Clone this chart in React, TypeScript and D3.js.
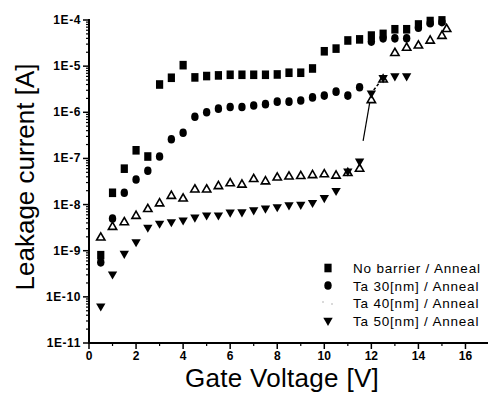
import React from 'react';
import * as d3 from 'd3';

const volts = [0.5, 1, 1.5, 2, 2.5, 3, 3.5, 4, 4.5, 5, 5.5, 6, 6.5, 7, 7.5, 8, 8.5, 9, 9.5, 10, 10.5, 11, 11.5, 12, 12.5, 13, 13.5, 14, 14.5, 15];
const noBarrierI = [8e-10, 1.8e-8, 6e-8, 1.5e-7, 1.1e-7, 4e-6, 5.6e-6, 1.05e-5, 5.7e-6, 6.1e-6, 6.3e-6, 6.5e-6, 6.5e-6, 6.5e-6, 6.5e-6, 6.6e-6, 7.2e-6, 7.2e-6, 8.9e-6, 2.1e-5, 2.4e-5, 3.6e-5, 3.8e-5, 4.6e-5, 5e-5, 6.3e-5, 6.3e-5, 8e-5, 9.5e-5, 9.8e-5];
const ta30I = [5.6e-10, 5e-9, 1.8e-8, 3.5e-8, 5.4e-8, 1.1e-7, 2.6e-7, 3.6e-7, 8e-7, 1.0e-6, 1.2e-6, 1.3e-6, 1.3e-6, 1.4e-6, 1.5e-6, 1.7e-6, 1.7e-6, 1.8e-6, 2.1e-6, 2.3e-6, 2.8e-6, 2.3e-6, 3.5e-6, 3.4e-5, 4.0e-5, 4.0e-5, 4.0e-5, 6.8e-5, 8.5e-5, 9e-5];
const ta40V = [...volts, 15.2];
const ta40I = [2e-9, 3.4e-9, 4.3e-9, 5.9e-9, 8.3e-9, 1.1e-8, 1.6e-8, 1.4e-8, 2.2e-8, 2.2e-8, 2.6e-8, 3e-8, 2.8e-8, 3.7e-8, 3.3e-8, 4e-8, 4.2e-8, 4.3e-8, 4.5e-8, 4.7e-8, 4.4e-8, 5e-8, 6.2e-8, 1.9e-6, 5.3e-6, 2e-5, 2.6e-5, 2.9e-5, 3.7e-5, 4.7e-5, 6.6e-5];
const ta50V = volts.slice(0, 27);
const ta50I = [6.3e-11, 3.1e-10, 8.7e-10, 1.55e-9, 3.2e-9, 3.9e-9, 4.2e-9, 4.6e-9, 5.3e-9, 5.9e-9, 5.9e-9, 6.8e-9, 6.9e-9, 7.6e-9, 8.3e-9, 8.9e-9, 9.8e-9, 1.0e-8, 1.1e-8, 1.4e-8, 2e-8, 5.3e-8, 8.7e-8, 2.6e-6, 5.6e-6, 6.1e-6, 6.1e-6];

const xTicks = [0, 2, 4, 6, 8, 10, 12, 14, 16];
const xMinor = [1, 3, 5, 7, 9, 11, 13, 15, 17];
const yMajor = [1e-11, 1e-10, 1e-9, 1e-8, 1e-7, 1e-6, 1e-5, 1e-4];
const yTickLabels = ['1E-11', '1E-10', '1E-9', '1E-8', '1E-7', '1E-6', '1E-5', '1E-4'];
const legendLabels = ['No barrier / Anneal', 'Ta 30[nm] / Anneal', 'Ta 40[nm] / Anneal', 'Ta 50[nm] / Anneal'];

const FONT = 'Liberation Sans, Arial, Helvetica, sans-serif';

export default function App() {
  const x = d3.scaleLinear().domain([0, 17]).range([89, 489]);
  const y = d3.scaleLog().domain([1e-11, 1e-4]).range([343, 20]);
  const minorY = y.ticks().filter((v) => !yMajor.some((m) => Math.abs(m - v) / m < 1e-6));

  const triUp = d3.symbol().type(d3.symbolTriangle).size(30)();
  const triDown = d3.symbol().type(d3.symbolTriangle).size(38)();

  const square = (cx: number, cy: number, k: string) => (
    <rect key={k} x={cx - 3.6} y={cy - 4.3} width={7.2} height={8.6} fill="#000" />
  );
  const circ = (cx: number, cy: number, k: string) => (
    <ellipse key={k} cx={cx} cy={cy} rx={3.7} ry={4.3} fill="#000" />
  );
  const up = (cx: number, cy: number, k: string) => (
    <path key={k} d={triUp} transform={`translate(${cx},${cy + 0.8})`} fill="#fff" stroke="#000" strokeWidth={1.6} />
  );
  const down = (cx: number, cy: number, k: string) => (
    <path key={k} d={triDown} transform={`translate(${cx},${cy}) rotate(180)`} fill="#000" />
  );

  const seg = (vs: number[], is: number[], i: number, t0: number, t1: number) => {
    const x0 = x(vs[i]), y0 = y(is[i]), x1 = x(vs[i + 1]), y1 = y(is[i + 1]);
    return { x1: x0 + (x1 - x0) * t0, y1: y0 + (y1 - y0) * t0, x2: x0 + (x1 - x0) * t1, y2: y0 + (y1 - y0) * t1 };
  };
  const i115 = ta50V.indexOf(11.5);
  const solid = seg(ta50V, ta50I, i115, 0.3, 0.95);
  const dashed = seg(ta50V, ta50I, i115 + 1, 0.2, 0.8);

  const legX = 328;
  const legY = [268, 285.5, 303, 320.5];

  return (
    <div style={{ position: 'absolute', left: 0, top: 0 }}>
      <svg width={488} height={394} style={{ display: 'block', background: '#fff' }} fontFamily={FONT}>
        {/* axes */}
        <line x1={x(0)} x2={x(0)} y1={y(1e-4) - 1} y2={y(1e-11) + 1} stroke="#000" strokeWidth={2} />
        <line x1={x(0) - 1} x2={x(17)} y1={y(1e-11)} y2={y(1e-11)} stroke="#000" strokeWidth={2} />
        {yMajor.map((v, i) => (
          <g key={'ym' + i}>
            <line x1={x(0) - 6} x2={x(0)} y1={y(v)} y2={y(v)} stroke="#000" strokeWidth={1.5} />
            <text x={x(0) - 8} y={y(v) + 4} textAnchor="end" fontSize={12} fontWeight="bold" letterSpacing={0.6}>{yTickLabels[i]}</text>
          </g>
        ))}
        {minorY.map((v, i) => (
          <line key={'yn' + i} x1={x(0) - 3} x2={x(0)} y1={y(v)} y2={y(v)} stroke="#000" strokeWidth={1.2} />
        ))}
        {xTicks.map((v) => (
          <g key={'xm' + v}>
            <line x1={x(v)} x2={x(v)} y1={y(1e-11)} y2={y(1e-11) + 6} stroke="#000" strokeWidth={1.5} />
            <text x={x(v)} y={y(1e-11) + 17} textAnchor="middle" fontSize={12} fontWeight="bold">{v}</text>
          </g>
        ))}
        {xMinor.map((v) => (
          <line key={'xn' + v} x1={x(v)} x2={x(v)} y1={y(1e-11)} y2={y(1e-11) + 3} stroke="#000" strokeWidth={1.2} />
        ))}
        {/* titles */}
        <text x={282} y={387} textAnchor="middle" fontSize={26} letterSpacing={0.3}>Gate Voltage [V]</text>
        <text transform="translate(34,177) rotate(-90)" textAnchor="middle" fontSize={26}>Leakage current [A]</text>

        {/* connecting lines */}
        <line {...solid} stroke="#000" strokeWidth={1.2} />
        <line {...dashed} stroke="#000" strokeWidth={1.5} strokeDasharray="3,2" />

        {/* data */}
        {ta40V.map((v, i) => up(x(v), y(ta40I[i]), 'u' + i))}
        {ta50V.map((v, i) => down(x(v), y(ta50I[i]), 'd' + i))}
        {volts.map((v, i) => circ(x(v), y(ta30I[i]), 'c' + i))}
        {volts.map((v, i) => square(x(v), y(noBarrierI[i]), 's' + i))}

        {/* legend */}
        {square(legX, legY[0], 'ls')}
        {circ(legX, legY[1], 'lc')}
        <circle cx={legX - 5} cy={legY[2] - 1} r={0.8} fill="#aaa" />
        <circle cx={legX + 4} cy={legY[2] + 1} r={0.8} fill="#aaa" />
        {down(legX, legY[3], 'ld')}
        {legendLabels.map((t, i) => (
          <text key={'lt' + i} x={353} y={legY[i] + 5} fontSize={13.5} letterSpacing={0.8}>{t}</text>
        ))}
      </svg>
    </div>
  );
}
